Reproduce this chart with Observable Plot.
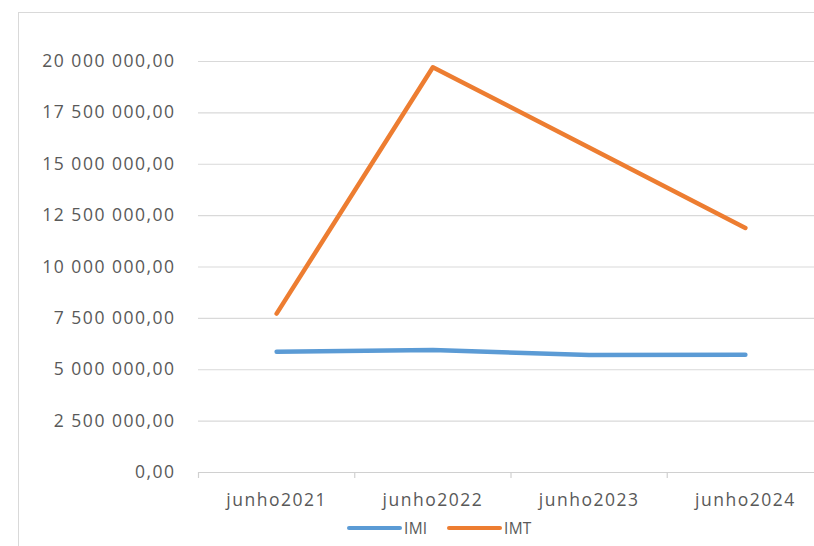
<!DOCTYPE html>
<html>
<head>
<meta charset="utf-8">
<script src="https://cdn.jsdelivr.net/npm/d3@7"></script>
<script src="https://cdn.jsdelivr.net/npm/@observablehq/plot@0.6"></script>
<style>
  html, body { margin: 0; padding: 0; background: #fff; overflow: hidden; }
  body { width: 814px; height: 546px; position: relative; font-family: "Open Sans", sans-serif; }
  #frame { position: absolute; left: 18px; top: 12px; width: 840px; height: 560px; border: 1px solid #d9d9d9; box-sizing: border-box; }
  #chart { position: absolute; left: 0; top: 0; width: 830px; }
  #chart svg { max-width: none !important; }
  #chart svg text { letter-spacing: 1.5px; }
  #legend { position: absolute; left: 0; top: 517px; width: 814px; height: 22px; }
  .item { position: absolute; top: 0; height: 22px; display: flex; align-items: center; color: #595959; font-size: 15.5px; letter-spacing: 0.3px; }
  .swatch { width: 55px; height: 4.5px; border-radius: 3px; margin-right: 2px; }
</style>
</head>
<body>
<div id="frame"></div>
<div id="chart"></div>
<div id="legend"></div>
<script>
// Monthly totals (June of each year)
const categories = ["junho2021", "junho2022", "junho2023", "junho2024"];
const seriesNames = ["IMI", "IMT"];
const imiValues = [5880000, 5960000, 5720000, 5730000];
const imtValues = [7730000, 19720000, 15820000, 11900000];
const yTicks = [0, 2500000, 5000000, 7500000, 10000000, 12500000, 15000000, 17500000, 20000000];
const seriesColors = ["#5B9BD5", "#ED7D31"];

const rows = [
  ...categories.map((c, i) => ({i, category: c, series: "IMI", value: imiValues[i]})),
  ...categories.map((c, i) => ({i, category: c, series: "IMT", value: imtValues[i]}))
];

// Portuguese-style number format: space thousands, comma decimals
const pt = d3.formatLocale({decimal: ",", thousands: " ", grouping: [3], currency: ["", ""]});
const fmt = pt.format(",.2f");

const centers = categories.map((_, i) => i);
const boundaries = d3.range(categories.length + 1).map(k => k - 0.5);

const W = 830, H = 512;
const chart = Plot.plot({
  width: W,
  height: H,
  marginLeft: 198,
  marginRight: W - 823,
  marginTop: 61,
  marginBottom: H - 472,
  style: {fontFamily: "Open Sans, sans-serif", fontSize: "17.5px", color: "#595959", background: "transparent"},
  x: {type: "linear", domain: [-0.5, categories.length - 0.5]},
  y: {type: "linear", domain: [0, 20000000]},
  color: {domain: seriesNames, range: seriesColors},
  marks: [
    Plot.gridY(yTicks, {stroke: "#d9d9d9", strokeOpacity: 1, strokeWidth: 1.2}),
    Plot.ruleY([0], {stroke: "#d0d0d0", strokeWidth: 1.2}),
    Plot.axisX(boundaries, {tickSize: 6, tickFormat: () => "", stroke: "#d0d0d0", strokeWidth: 1.2, label: null}),
    Plot.axisX(centers, {tickSize: 0, tickPadding: 21, tickFormat: i => categories[i], fill: "#595959", label: null}),
    Plot.axisY(yTicks, {tickSize: 0, tickPadding: 23, tickFormat: fmt, fill: "#595959", label: null}),
    Plot.line(rows, {x: "i", y: "value", z: "series", stroke: "series", strokeWidth: 4.5, strokeLinecap: "round", strokeLinejoin: "round"})
  ]
});
document.getElementById("chart").appendChild(chart);

// Legend below the plot
const legend = document.getElementById("legend");
const legendLeft = [347, 447];
seriesNames.forEach((name, k) => {
  const item = document.createElement("div");
  item.className = "item";
  item.style.left = legendLeft[k] + "px";
  const sw = document.createElement("span");
  sw.className = "swatch";
  sw.style.background = seriesColors[k];
  const label = document.createElement("span");
  label.textContent = name;
  item.appendChild(sw);
  item.appendChild(label);
  legend.appendChild(item);
});
</script>
</body>
</html>
